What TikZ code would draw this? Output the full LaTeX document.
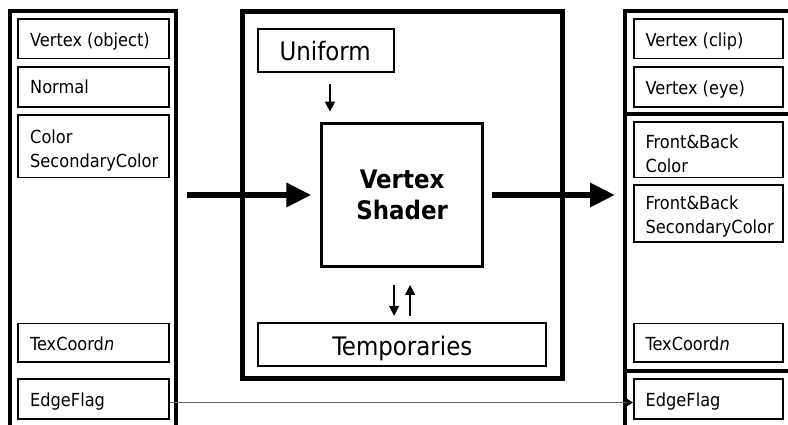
\documentclass[tikz,border=0pt]{standalone}
\usepackage{fontspec}
\setmainfont{DejaVu Sans Condensed}
\usetikzlibrary{arrows.meta,fit}

\tikzset{
  panel/.style={draw, line width=4pt, inner sep=0pt},
  corepanel/.style={draw, line width=5pt, inner sep=0pt},
  slot/.style={draw, line width=1.8pt, inner sep=0pt},
  stage/.style={draw, line width=3.3pt, inner sep=0pt},
  % base of a two-line label is the baseline of its last line
  lbl/.style={inner sep=0pt, anchor=base west, align=left,
    font=\fontsize{18}{24}\selectfont},
  biglbl/.style={inner sep=0pt, align=center,
    font=\fontsize{25.5}{31}\selectfont},
  bigarrow/.style={line width=6.7pt, -{Triangle[length=25pt,width=23pt]}},
  thinarrow/.style={line width=1.3pt, -{Triangle[length=10pt,width=10pt]}},
  edgeline/.style={draw=black!60, line width=1.4pt,
    -{Triangle[length=6pt,width=7pt,color=black]}},
}

\begin{document}
\begin{tikzpicture}[x=1pt,y=-1pt]
\clip (0,0) rectangle (788,424);
\fill[white] (0,0) rectangle (788,424);

% ---- per-vertex inputs ----
\node[panel, fit={(10.3,10.5) (176,440)}] (inpanel) {};
\node[slot, fit={(18,19.2) (169,58.5)}] (inverts) {};
\node[lbl] (inverts-t) at (30,46.3) {Vertex (object)};
\node[slot, fit={(18,67) (169,107)}] (innormal) {};
\node[lbl] (innormal-t) at (30,93.5) {Normal};
\node[slot, fit={(18,115) (169,177.5)}] (incolor) {};
\node[lbl] (incolor-t) at (30,167.7) {Color\\SecondaryColor};
\node[slot, fit={(18,323.5) (169,362)}] (intex) {};
\node[lbl] (intex-t) at (30,350) {TexCoord\textit{n}};
\node[slot, fit={(18,379) (169,419)}] (inedge) {};
\node[lbl] (inedge-t) at (30,406.7) {EdgeFlag};

% ---- vertex processor ----
\node[corepanel, fit={(242,11) (562,378)}] (core) {};
\node[slot, line width=2pt, fit={(257.7,28.5) (393.7,72)}] (unif) {};
\node[biglbl, anchor=base] (unif-t) at (325.2,60.8) {Uniform};
\node[stage, fit={(321.7,123.3) (482.5,266.7)}] (vs) {};
\node[biglbl, font=\fontsize{25.5}{31}\selectfont\bfseries] (vs-t) at (vs.center) {Vertex\\Shader};
\node[slot, line width=2pt, fit={(257.7,322.8) (546.3,366.3)}] (temps) {};
\node[biglbl, anchor=base] (temps-t) at (402.3,355.5) {Temporaries};

% ---- per-vertex outputs ----
\node[panel, fit={(625,10.5) (800,440)}] (outpanel) {};
\coordinate (sepa) at (625,114);
\coordinate (sepb) at (625,371);
\draw[line width=3.5pt] (sepa) -- (sepa -| outpanel.east);
\draw[line width=3.5pt] (sepb) -- (sepb -| outpanel.east);
\node[slot, fit={(634,19.2) (783,58.5)}] (outclip) {};
\node[lbl] (outclip-t) at (645.5,46.5) {Vertex (clip)};
\node[slot, fit={(634,66.7) (783,106.7)}] (outeye) {};
\node[lbl] (outeye-t) at (645.5,94) {Vertex (eye)};
\node[slot, fit={(634,121.8) (783,177.5)}] (outcol) {};
\node[lbl] (outcol-t) at (645.5,172.5) {Front\&Back\\Color};
\node[slot, fit={(634,185.2) (783,241.7)}] (outsec) {};
\node[lbl] (outsec-t) at (645.5,233.3) {Front\&Back\\SecondaryColor};
\node[slot, fit={(634,323.5) (783,362)}] (outtex) {};
\node[lbl] (outtex-t) at (645.5,350) {TexCoord\textit{n}};
\node[slot, fit={(634,379) (783,419)}] (outedge) {};
\node[lbl] (outedge-t) at (645.5,406.7) {EdgeFlag};

% ---- data flow ----
\draw[bigarrow, shorten <=9pt, shorten >=8.7pt] (inpanel.east |- vs.west) -- (vs.west);
\draw[bigarrow, shorten <=7.5pt, shorten >=8pt] (vs.east) -- (vs.east -| outpanel.west);
\draw[thinarrow, shorten <=11pt, shorten >=10pt]
  ([xshift=4.3pt]unif.south) -- ([xshift=4.3pt]unif.south |- vs.north);
\draw[thinarrow, shorten <=16.3pt, shorten >=6pt]
  ([xshift=-8pt]vs.south) -- ([xshift=-8pt]vs.south |- temps.north);
\draw[thinarrow, shorten <=6pt, shorten >=16.6pt]
  ([xshift=8pt]vs.south |- temps.north) -- ([xshift=8pt]vs.south);
\draw[edgeline] ([yshift=-3.5pt]inedge.east) -- ([yshift=-3.5pt]outedge.west);
\end{tikzpicture}
\end{document}
